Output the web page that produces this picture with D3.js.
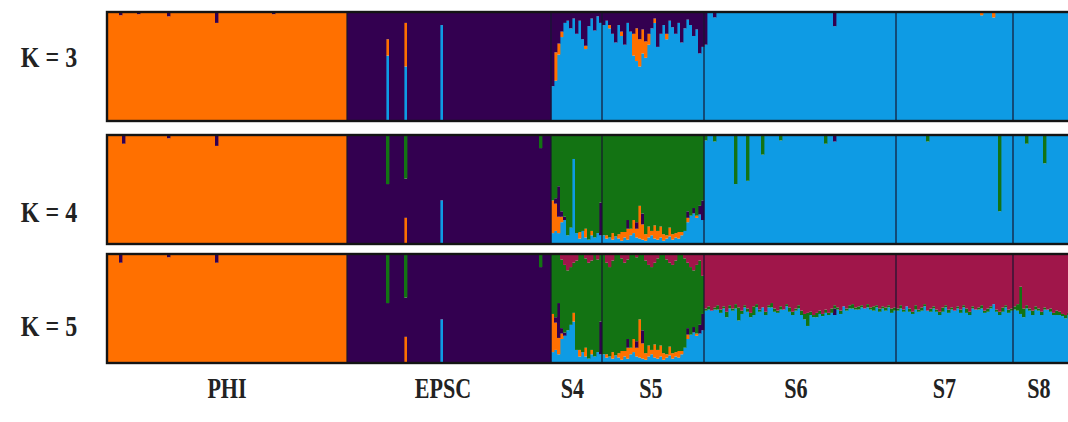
<!DOCTYPE html>
<html>
<head>
<meta charset="utf-8">
<script src="https://cdn.jsdelivr.net/npm/d3@7"></script>
<style>
  html, body { margin: 0; padding: 0; background: #fff; }
  svg { display: block; }
  .lab { font-family: "Liberation Serif", "Times New Roman", serif; font-weight: bold; fill: #222; }
</style>
</head>
<body>
<svg id="chart" width="1068" height="422"></svg>
<script>
'use strict'

// populations and number of individuals in each
const groupNames = ['PHI', 'EPSC', 'S4', 'S5', 'S6', 'S7', 'S8']
const groupSizes = [80, 68, 17, 34, 64, 39, 20]
const kValues = [3, 4, 5]

// clusters in stacking order, bottom to top
const clusterKeys = ['blue', 'orange', 'purple', 'green', 'crimson']
const clusterColors = ['#0e9be4', '#ff7000', '#330050', '#137313', '#a0164a']

// cluster that takes the remainder of each individual's membership
const fillCluster = {
    3: ['orange', 'purple', 'purple', 'purple', 'blue', 'blue', 'blue'],
    4: ['orange', 'purple', 'green', 'green', 'blue', 'blue', 'blue'],
    5: ['orange', 'purple', 'green', 'green', 'blue', 'blue', 'blue']
}

// K = 3, S4 + S5 individuals (%)
const s45BlueK3 = [32, 37, 61, 77, 90, 92, 85, 94, 80, 92, 75, 66, 87, 94, 83, 96, 90,
    88, 92, 85, 80, 72, 88, 78, 70, 90, 82, 60, 55, 50, 62, 58, 70, 85, 90, 68, 80, 88, 75, 92, 86, 80, 90, 72, 85, 93, 88, 78, 84, 62, 68]
const s45OrangeK3 = [0, 26, 10, 5, 0, 0, 0, 0, 0, 0, 0, 3, 0, 0, 0, 0, 0,
    0, 0, 3, 0, 0, 0, 4, 0, 0, 0, 20, 30, 25, 22, 15, 10, 0, 4, 0, 0, 0, 5, 0, 0, 0, 0, 0, 0, 0, 0, 0, 0, 0, 0]

// K = 4, S4 + S5 individuals (%)
const s45BlueK4 = [10, 12, 10, 20, 22, 8, 15, 78, 10, 5, 12, 6, 4, 8, 6, 10, 8,
    8, 5, 6, 4, 7, 5, 3, 6, 4, 8, 10, 6, 5, 4, 3, 6, 8, 5, 4, 6, 3, 5, 7, 4, 6, 5, 8, 12, 20, 26, 28, 24, 27, 22]
const s45OrangeK4 = [30, 25, 15, 5, 0, 0, 0, 0, 0, 6, 0, 8, 0, 4, 0, 0, 0,
    0, 3, 0, 6, 0, 4, 8, 5, 10, 6, 12, 8, 30, 14, 6, 10, 4, 12, 8, 10, 6, 3, 8, 5, 4, 6, 3, 0, 4, 0, 0, 2, 0, 0]
const s45PurpleK4 = [0, 5, 28, 5, 3, 0, 0, 0, 0, 0, 0, 0, 0, 0, 0, 0, 30,
    0, 0, 0, 0, 0, 0, 0, 0, 8, 0, 0, 6, 0, 10, 0, 0, 0, 0, 0, 0, 0, 0, 0, 0, 0, 0, 0, 0, 6, 0, 5, 0, 8, 18]

// K = 5, S4 + S5 individuals (%)
const s45BlueK5 = [10, 12, 8, 22, 25, 30, 35, 38, 12, 6, 10, 6, 4, 8, 6, 10, 8,
    8, 5, 6, 4, 7, 5, 3, 6, 4, 8, 10, 6, 5, 4, 3, 6, 8, 5, 4, 6, 3, 5, 7, 4, 6, 5, 8, 14, 22, 26, 28, 25, 27, 30]
const s45OrangeK5 = [35, 25, 15, 5, 0, 0, 0, 8, 0, 6, 0, 8, 0, 4, 0, 0, 0,
    0, 3, 0, 6, 0, 4, 8, 5, 10, 6, 12, 8, 35, 14, 6, 10, 4, 12, 8, 10, 6, 3, 8, 5, 4, 6, 3, 0, 4, 0, 0, 2, 0, 0]
const s45PurpleK5 = [0, 5, 32, 5, 3, 0, 0, 0, 0, 0, 0, 0, 0, 0, 0, 0, 30,
    0, 0, 0, 0, 0, 0, 0, 0, 8, 0, 0, 6, 0, 12, 0, 0, 0, 0, 0, 0, 0, 0, 0, 0, 0, 0, 0, 0, 6, 0, 5, 0, 8, 15]
const s45CrimsonK5 = [0, 0, 0, 5, 10, 15, 12, 8, 6, 0, 0, 4, 8, 6, 0, 5, 0,
    0, 8, 12, 6, 0, 0, 4, 8, 5, 0, 0, 3, 0, 0, 6, 10, 12, 8, 4, 0, 0, 5, 8, 10, 6, 0, 0, 4, 8, 12, 15, 10, 6, 20]

// K = 5, S6 + S7 + S8 individuals (%)
const s678CrimsonK5 = [50, 48, 52, 49, 47, 51, 48, 53, 47, 50, 46, 49, 52, 47, 50, 54, 48, 46, 51, 49, 53, 47, 45, 50, 52, 48, 51, 46, 49, 53, 50, 47,
    52, 55, 54, 53, 56, 54, 52, 55, 51, 54, 50, 47, 49, 52, 48, 50, 47, 46, 49, 48, 47, 50, 46, 49, 48, 47, 50, 48, 49, 47, 50, 49,
    50, 47, 51, 48, 50, 53, 47, 51, 49, 46, 52, 50, 48, 51, 53, 49, 47, 51, 49, 52, 48, 51, 47, 50, 53, 48, 51, 49, 47, 52, 50, 48, 46, 51, 53, 49, 47, 51, 50,
    48, 46, 30, 50, 47, 50, 52, 48, 50, 53, 49, 51, 50, 54, 52, 53, 55, 56, 54, 55]
const s678GreenK5 = [2, 3, 0, 2, 4, 3, 2, 5, 3, 2, 4, 12, 3, 2, 3, 4, 8, 3, 2, 0, 3, 2, 4, 3, 2, 3, 0, 2, 4, 3, 2, 3,
    4, 5, 12, 3, 2, 4, 3, 2, 3, 2, 4, 3, 2, 3, 0, 2, 3, 4, 2, 3, 2, 0, 3, 2, 4, 2, 3, 2, 3, 2, 4, 3,
    2, 3, 2, 0, 3, 2, 4, 2, 3, 2, 0, 3, 2, 2, 3, 4, 2, 3, 2, 0, 2, 3, 2, 4, 3, 2, 0, 2, 3, 2, 3, 2, 0, 2, 3, 4, 2, 3, 2,
    3, 6, 25, 8, 3, 2, 4, 3, 2, 3, 2, 0, 3, 2, 4, 3, 2, 3, 2, 3]

// runs of individuals: [first population, cluster, values]
const denseK = {
    3: [['S4', 'blue', s45BlueK3], ['S4', 'orange', s45OrangeK3]],
    4: [['S4', 'blue', s45BlueK4], ['S4', 'orange', s45OrangeK4], ['S4', 'purple', s45PurpleK4]],
    5: [['S4', 'blue', s45BlueK5], ['S4', 'orange', s45OrangeK5], ['S4', 'purple', s45PurpleK5],
        ['S4', 'crimson', s45CrimsonK5], ['S6', 'crimson', s678CrimsonK5], ['S6', 'green', s678GreenK5]]
}

// single admixed individuals: [population, index, cluster, %]
const spikesK = {
    3: [['PHI', 4, 'purple', 3], ['PHI', 10, 'purple', 2], ['PHI', 20, 'purple', 4], ['PHI', 36, 'purple', 10], ['PHI', 55, 'purple', 2],
        ['EPSC', 13, 'blue', 60], ['EPSC', 13, 'orange', 15], ['EPSC', 19, 'blue', 50], ['EPSC', 19, 'orange', 40], ['EPSC', 31, 'blue', 88],
        ['S6', 0, 'purple', 30], ['S6', 3, 'purple', 5], ['S6', 43, 'purple', 13], ['S7', 28, 'orange', 3], ['S7', 32, 'orange', 5]],
    4: [['PHI', 5, 'purple', 8], ['PHI', 20, 'purple', 3], ['PHI', 36, 'purple', 10],
        ['EPSC', 13, 'green', 45], ['EPSC', 19, 'orange', 24], ['EPSC', 19, 'green', 40], ['EPSC', 31, 'blue', 40], ['EPSC', 64, 'green', 12],
        ['S6', 0, 'green', 5], ['S6', 3, 'green', 6], ['S6', 10, 'green', 45], ['S6', 14, 'green', 42], ['S6', 19, 'green', 18],
        ['S6', 25, 'green', 5], ['S6', 40, 'green', 8], ['S6', 43, 'purple', 6], ['S7', 10, 'green', 6], ['S7', 34, 'green', 70],
        ['S8', 4, 'green', 8], ['S8', 10, 'green', 26]],
    5: [['PHI', 4, 'purple', 8], ['PHI', 20, 'purple', 3], ['PHI', 36, 'purple', 8],
        ['EPSC', 13, 'green', 45], ['EPSC', 19, 'orange', 24], ['EPSC', 19, 'green', 40], ['EPSC', 31, 'blue', 40], ['EPSC', 64, 'green', 12],
        ['S6', 43, 'purple', 6]]
}

// layout
const plotLeft = 107
const cell = 3
const panelTops = [12, 135, 254]
const panelHeight = 109
const kLabelY = [57, 212, 326]
const groupLabelShift = [0, -6, -4, -2, -4, -10, -4]

const svg = d3.select('#chart')
const nInd = d3.sum(groupSizes)
const groupStart = Array.from(d3.cumsum([0, ...groupSizes]))

const x = d3.scaleBand()
    .domain(d3.range(nInd))
    .range([plotLeft, plotLeft + nInd * cell])

function buildRows(k) {
    const keys = clusterKeys.slice(0, k)
    const rows = []
    groupNames.forEach((g, gi) => {
        for (let i = 0; i < groupSizes[gi]; i++) {
            const r = {id: rows.length, group: gi}
            keys.forEach((c) => r[c] = 0)
            rows.push(r)
        }
    })
    denseK[k].forEach(([g, c, vals]) => {
        const s = groupStart[groupNames.indexOf(g)]
        vals.forEach((v, i) => rows[s + i][c] = v)
    })
    spikesK[k].forEach(([g, i, c, v]) => {
        rows[groupStart[groupNames.indexOf(g)] + i][c] = v
    })
    rows.forEach((r) => {
        const f = fillCluster[k][r.group]
        const other = d3.sum(keys.filter((c) => c !== f), (c) => r[c])
        r[f] = Math.max(0, 100 - other)
    })
    return {rows, keys}
}

kValues.forEach((k, pi) => {
    const {rows, keys} = buildRows(k)
    const top = panelTops[pi]
    const y = d3.scaleLinear().domain([0, 1]).range([top + panelHeight, top])
    const series = d3.stack().keys(keys).value((d, key) => d[key] / 100)(rows)

    const g = svg.append('g')
    g.selectAll('g.layer')
        .data(series)
        .join('g')
        .attr('class', 'layer')
        .attr('fill', (d) => clusterColors[clusterKeys.indexOf(d.key)])
        .selectAll('rect')
        .data((d) => d.filter((s) => s[1] - s[0] > 0))
        .join('rect')
        .attr('x', (d) => x(d.data.id))
        .attr('width', x.bandwidth() + 0.4)
        .attr('y', (d) => y(d[1]))
        .attr('height', (d) => y(d[0]) - y(d[1]))

    // population separators
    g.selectAll('line.sep')
        .data(groupStart.slice(1, -1))
        .join('line')
        .attr('class', 'sep')
        .attr('x1', (d) => x(d)).attr('x2', (d) => x(d))
        .attr('y1', top).attr('y2', top + panelHeight)
        .attr('stroke', '#161630')
        .attr('stroke-width', 1.2)

    g.append('rect')
        .attr('x', plotLeft).attr('y', top)
        .attr('width', nInd * cell).attr('height', panelHeight)
        .attr('fill', 'none')
        .attr('stroke', '#141414')
        .attr('stroke-width', 2.4)

    svg.append('text')
        .attr('class', 'lab')
        .attr('transform', `translate(49,${kLabelY[pi]}) scale(1,1.22)`)
        .attr('text-anchor', 'middle')
        .attr('dominant-baseline', 'central')
        .attr('font-size', 24)
        .text(`K = ${k}`)
})

svg.selectAll('text.grp')
    .data(groupNames)
    .join('text')
    .attr('class', 'lab grp')
    .attr('transform', (d, i) => {
        const cx = (x(groupStart[i]) + x(groupStart[i + 1] - 1) + cell) / 2 + groupLabelShift[i]
        return `translate(${cx},388) scale(0.92,1.22)`
    })
    .attr('text-anchor', 'middle')
    .attr('dominant-baseline', 'central')
    .attr('font-size', 24)
    .text((d) => d)
</script>
</body>
</html>
